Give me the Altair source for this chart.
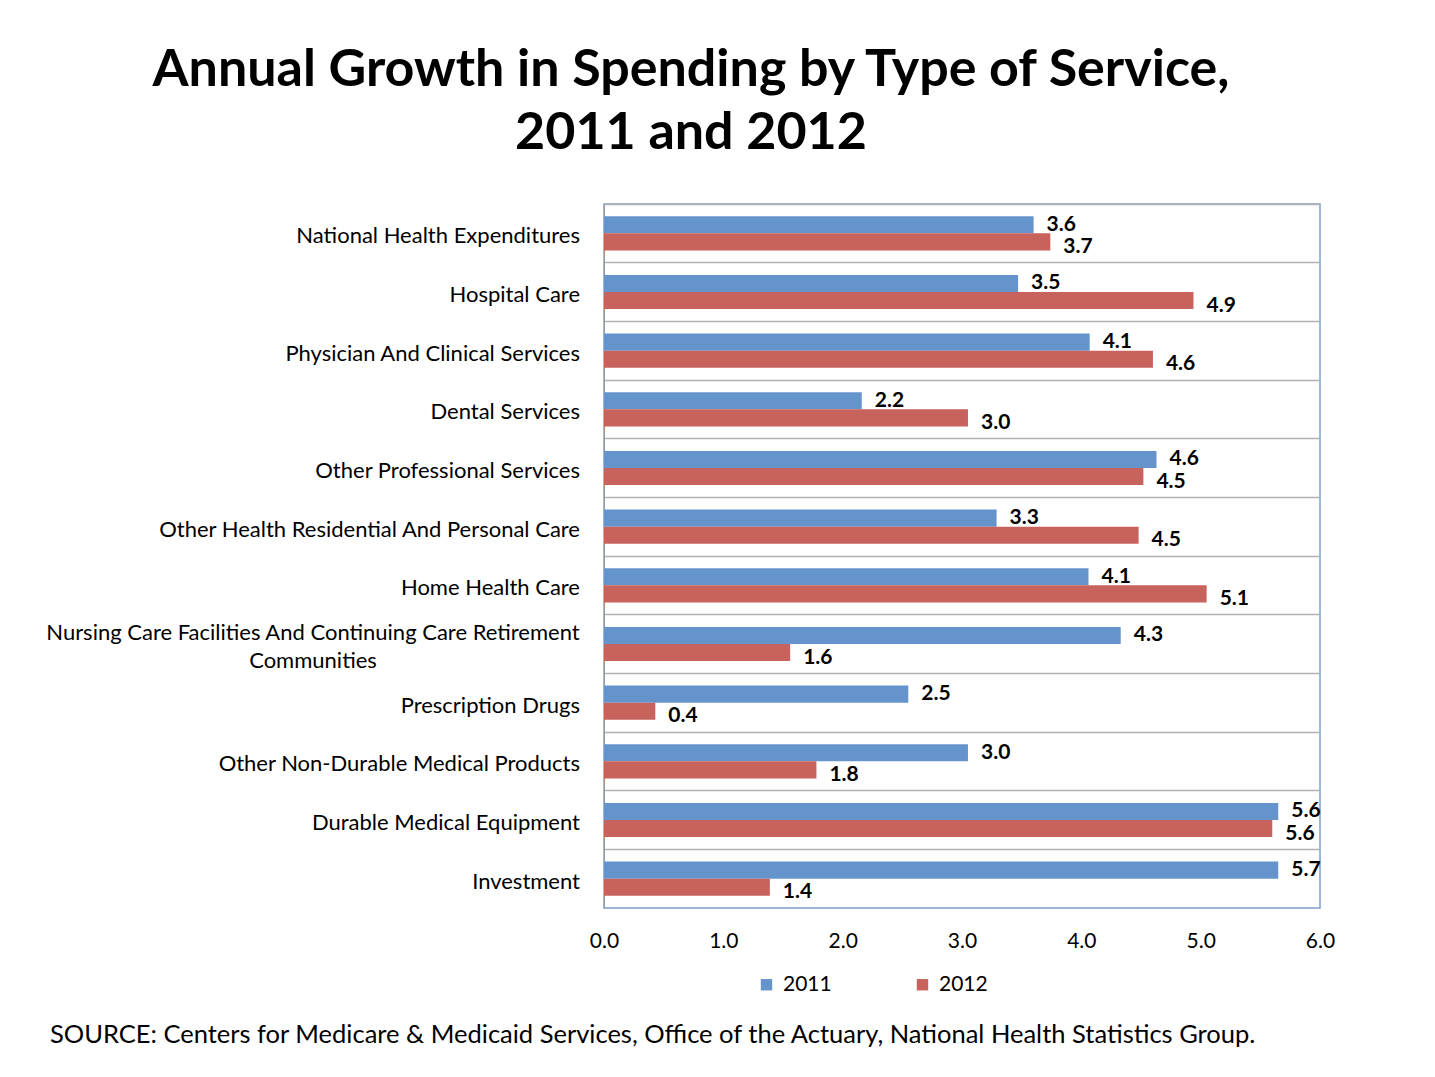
import altair as alt
import pandas as pd

categories = [
    "National Health Expenditures",
    "Hospital Care",
    "Physician And Clinical Services",
    "Dental Services",
    "Other Professional Services",
    "Other Health Residential And Personal Care",
    "Home Health Care",
    "Nursing Care Facilities And Continuing Care Retirement Communities",
    "Prescription  Drugs",
    "Other Non-Durable Medical Products",
    "Durable Medical Equipment",
    "Investment",
]
values_2011 = [3.60, 3.47, 4.07, 2.16, 4.63, 3.29, 4.06, 4.33, 2.55, 3.05, 5.65, 5.65]
values_2012 = [3.74, 4.94, 4.60, 3.05, 4.52, 4.48, 5.05, 1.56, 0.43, 1.78, 5.60, 1.39]
labels_2011 = ["3.6", "3.5", "4.1", "2.2", "4.6", "3.3", "4.1", "4.3", "2.5", "3.0", "5.6", "5.7"]
labels_2012 = ["3.7", "4.9", "4.6", "3.0", "4.5", "4.5", "5.1", "1.6", "0.4", "1.8", "5.6", "1.4"]
years = ["2011", "2012"]
colors = ["#6594CC", "#C8625D"]
x_ticks = [0, 1, 2, 3, 4, 5, 6]

FONT = "Lato"

rows = []
for i, c in enumerate(categories):
    rows.append({"category": c, "year": "2011", "value": values_2011[i], "label": labels_2011[i]})
    rows.append({"category": c, "year": "2012", "value": values_2012[i], "label": labels_2012[i]})
df = pd.DataFrame(rows)

wrapped = {
    "Nursing Care Facilities And Continuing Care Retirement Communities":
        ["Nursing Care Facilities And Continuing Care Retirement", "Communities"]
}
cat_df = pd.DataFrame({"category": categories})
cat_single = cat_df[~cat_df["category"].isin(wrapped.keys())]
cat_multi = pd.DataFrame([{"category": k, "lines": v} for k, v in wrapped.items()])

yscale = alt.Scale(domain=categories, paddingInner=0, paddingOuter=0)
y_enc = alt.Y("category:N", scale=yscale,
              axis=alt.Axis(title=None, labels=False, ticks=False, domain=True,
                            domainColor="#9a9a9a", grid=True, gridColor="#b0b0b0",
                            gridWidth=1.5, bandPosition=0))
yoff = alt.YOffset("year:N", scale=alt.Scale(domain=years, paddingOuter=0.72, paddingInner=0))

bars = alt.Chart(df).mark_bar().encode(
    y=y_enc,
    yOffset=yoff,
    x=alt.X("value:Q", scale=alt.Scale(domain=[0, 6], nice=False),
            axis=alt.Axis(title=None, values=x_ticks, format=".1f", grid=False,
                          ticks=False, domain=False, labelFontSize=21, labelFont=FONT,
                          labelColor="#000000", labelPadding=22, labelFlush=False)),
    color=alt.Color("year:N", scale=alt.Scale(domain=years, range=colors),
                    legend=alt.Legend(title=None, orient="none", legendX=152, legendY=770,
                                      direction="horizontal", symbolType="square",
                                      symbolSize=130, symbolStrokeWidth=0, labelFontSize=21,
                                      labelFont=FONT, labelColor="#000000", columnPadding=80,
                                      labelOffset=6)),
)

def value_layer(year, dy):
    return alt.Chart(df[df["year"] == year]).mark_text(
        align="left", baseline="middle", dx=13, dy=dy, fontSize=21, fontWeight="bold",
        font=FONT, color="#000000"
    ).encode(
        y=alt.Y("category:N", scale=yscale),
        yOffset=yoff,
        x=alt.X("value:Q"),
        text="label:N",
    )

value_text_2011 = value_layer("2011", 0)
value_text_2012 = value_layer("2012", 5)

cat_text = alt.Chart(cat_single).mark_text(
    align="right", baseline="middle", fontSize=22, font=FONT, color="#000000", dy=3
).encode(
    y=alt.Y("category:N", scale=yscale),
    x=alt.value(-24),
    text="category:N",
)

cat_text_multi = alt.Chart(cat_multi).mark_text(
    align="center", baseline="middle", fontSize=22, font=FONT, color="#000000",
    lineHeight=28, dy=-11
).encode(
    y=alt.Y("category:N", scale=yscale),
    x=alt.value(-291),
    text="lines:N",
)

source = alt.Chart(pd.DataFrame({"t": ["SOURCE: Centers for Medicare & Medicaid Services, Office of the Actuary, National Health Statistics Group."]})).mark_text(
    align="left", baseline="middle", fontSize=25.5, font=FONT, color="#000000"
).encode(
    x=alt.value(-554),
    y=alt.value(831),
    text="t:N",
)

chart = alt.layer(bars, value_text_2011, value_text_2012, cat_text, cat_text_multi, source).properties(
    width=716,
    height=704,
    autosize=alt.AutoSizeParams(type="none"),
    padding={"left": 596, "top": 196, "right": 100, "bottom": 160},
    title=alt.TitleParams(
        ["Annual Growth in Spending by Type of Service,", "2011 and 2012"],
        fontSize=52, font=FONT, fontWeight="bold", color="#000000",
        anchor="middle", dx=-271, offset=44, lineHeight=63,
    ),
).configure_view(stroke="#7f9fca", strokeWidth=1.5)

chart.save("out.html", embed_options={"renderer": "svg", "actions": False})
